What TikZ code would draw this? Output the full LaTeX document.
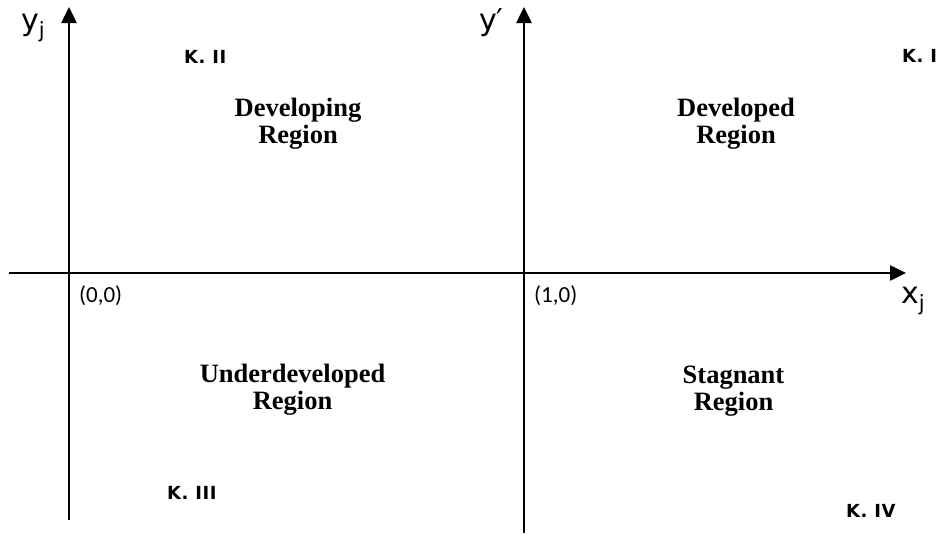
\documentclass[tikz,border=0pt]{standalone}
\usepackage{fontspec}
\setmainfont{Liberation Serif}
\newfontfamily\axisfont{DejaVu Sans}
\newfontfamily\coordfont{Carlito}
\newfontfamily\quadfont[LetterSpace=3]{DejaVu Sans}
\usetikzlibrary{arrows.meta}
\begin{document}
\begin{tikzpicture}[x=1pt,y=-1pt]
	\tikzstyle{every node}+=[inner sep=0pt]
	\tikzstyle{axis}=[line width=2.5pt,-{Triangle[length=16pt,width=15pt]}]
	\tikzstyle{region}=[align=center,anchor=base,font=\fontsize{26.5}{27}\selectfont\bfseries]
	\tikzstyle{axlabel}=[anchor=base west,font=\axisfont\fontsize{30}{32}\selectfont]
	\tikzstyle{origin}=[anchor=base west,font=\coordfont\fontsize{23}{26}\selectfont]
	\tikzstyle{quad}=[anchor=base west,font=\quadfont\bfseries\fontsize{18}{20}\selectfont]
	\useasboundingbox (0,0) rectangle (941,533);
	% axes
	\coordinate (xstart) at (9,273);
	\coordinate (xend) at (906,273);
	\coordinate (ystart) at (69,520);
	\coordinate (yend) at (69,7);
	\coordinate (ystartb) at (524,533);
	\coordinate (yendb) at (524,7);
	\draw [axis] (xstart) -- (xend);
	\draw [axis] (ystart) -- (yend);
	\draw [axis] (ystartb) -- (yendb);
	% axis labels
	\node [axlabel] (yj) at (21,30) {y\textsubscript{j}};
	\node [axlabel] (yprime) at (479,30) {y′};
	\node [axlabel] (xj) at (901,303) {x\textsubscript{j}};
	\node [origin] (orig) at (79,302) {(0,0)};
	\node [origin] (one) at (534,302) {(1,0)};
	% quadrants
	\node [quad] (k1) at (902,62) {K. I};
	\node [quad] (k2) at (184,63) {K. II};
	\node [quad] (k3) at (167,499) {K. III};
	\node [quad] (k4) at (846,517) {K. IV};
	% regions
	\node [region] (developing) at (298,143) {Developing\\Region};
	\node [region] (developed) at (736,143) {Developed\\Region};
	\node [region] (under) at (292.5,409) {Underdeveloped\\Region};
	\node [region] (stagnant) at (733.5,410) {Stagnant\\Region};
\end{tikzpicture}
\end{document}
